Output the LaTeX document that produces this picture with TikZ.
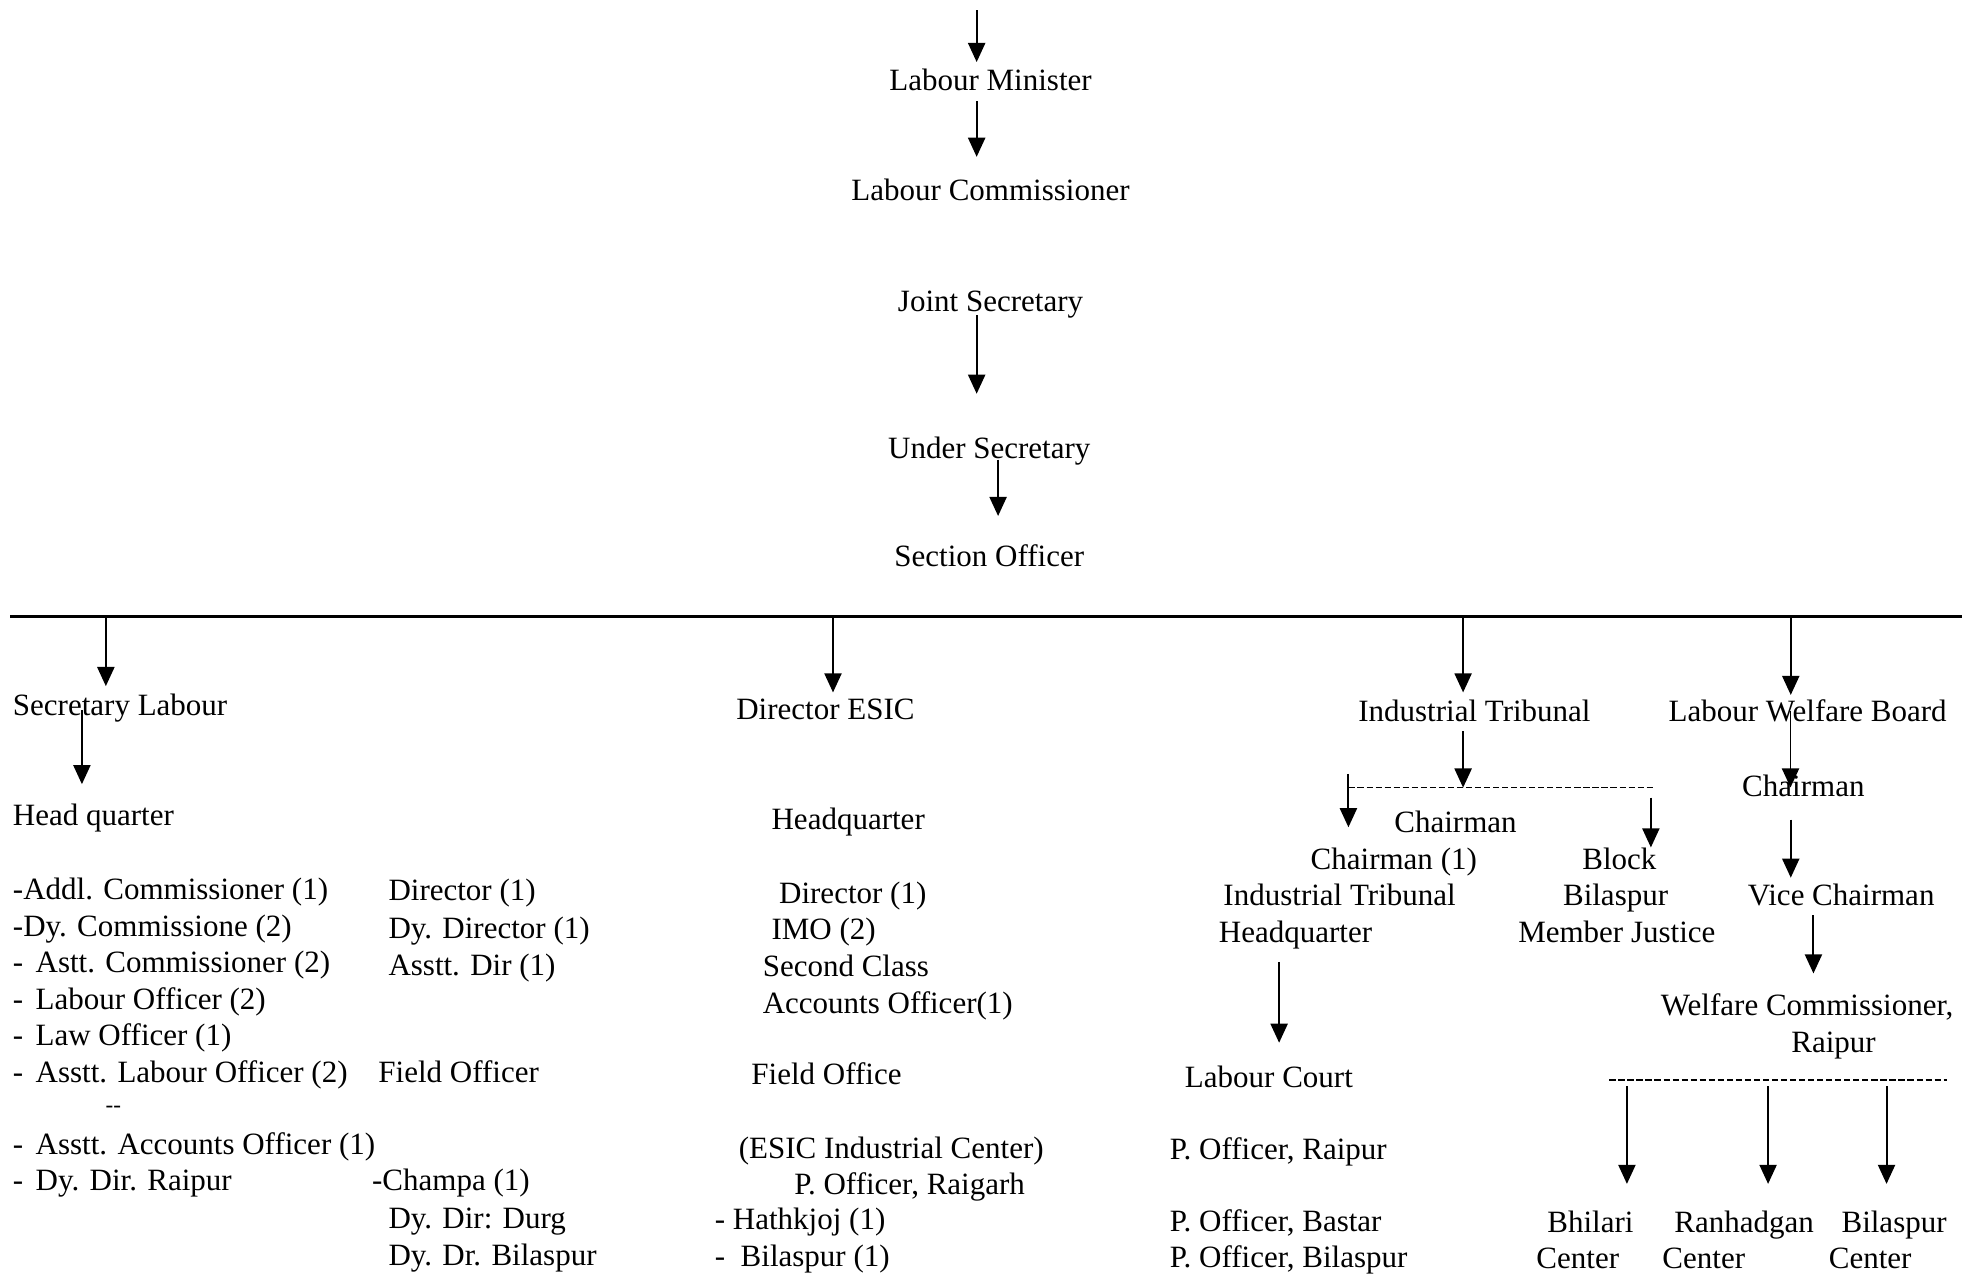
\documentclass[tikz,border=0pt]{standalone}
\usepackage{fontspec}
\setmainfont{Liberation Serif}
\usetikzlibrary{arrows.meta}

\begin{document}
\begin{tikzpicture}[
  x=1cm, y=1cm,
  font=\fontsize{17.5}{21}\selectfont,
  post/.style={inner sep=0pt, text height=0.88em, text depth=0.04em},
  entry/.style={post, anchor=west},
  link/.style={-{Triangle[length=3.8mm, width=3.4mm]}, line width=1.1pt},
  bus/.style={line width=1.6pt},
  split/.style={line width=0.7pt, dash pattern=on 3.5pt off 1.6pt},
  tick/.style={inner sep=0pt, font=\fontsize{13}{15}\selectfont}
]
\useasboundingbox (0,0) rectangle (39.2,-25.35);

  % Top chain
  \coordinate (top) at (19.375,-0.2);
  \node[post] (lm) at (19.65,-1.65)  {Labour Minister};
  \node[post] (lc) at (19.65,-3.825) {Labour Commissioner};
  \node[post] (js) at (19.65,-6.025) {Joint Secretary};
  \node[post] (us) at (19.625,-8.95) {Under Secretary};
  \node[post] (so) at (19.625,-11.1) {Section Officer};

  \draw[link, shorten >=2.5mm] (top) -- (top |- lm.north);
  \draw[link, shorten <=1.9mm, shorten >=5.45mm] (top |- lm.south) -- (top |- lc.north);
  \draw[link, shorten <=0.65mm, shorten >=9.7mm] (top |- js.south) -- (top |- us.north);
  \draw[link, shorten >=6.95mm] ([xshift=1.75mm]us.south) -- ([xshift=1.75mm]us.south |- so.north);

  % Rule under Section Officer, four branches off it
  \coordinate (busL) at (0.2,-12.225);
  \coordinate (busR) at (38.925,-12.225);
  \draw[bus] (busL) -- (busR);

  \coordinate (b1) at (2.1,-12.225);
  \coordinate (b2) at (16.525,-12.225);
  \coordinate (b3) at (29.025,-12.225);
  \coordinate (b4) at (35.525,-12.225);

  \node[entry] (sl)  at (0.25,-14.05)  {Secretary Labour};
  \node[entry] (de)  at (14.6,-14.125) {Director ESIC};
  \node[post]  (it)  at (29.25,-14.175) {Industrial Tribunal};
  \node[post]  (lwb) at (35.86,-14.175) {Labour Welfare Board};

  \foreach \b/\n/\s in {b1/sl/2.7mm, b2/de/2.2mm, b3/it/2.7mm, b4/lwb/2.2mm} {
    \draw[link, shorten >=\s] (\b) -- (\b |- \n.north);
  }

  % Secretary Labour
  \node[entry] (hq) at (0.25,-16.225) {Head quarter};
  \draw[link, shorten <=-1.35mm, shorten >=5mm] ([xshift=1.375cm]sl.south west) -- ([xshift=1.375cm]sl.south west |- hq.north);

  \foreach \t [count=\i] in {-Addl. Commissioner (1), -Dy. Commissione (2),
      {-\hspace{0.4em}Astt. Commissioner (2)}, {-\hspace{0.4em}Labour Officer (2)},
      {-\hspace{0.4em}Law Officer (1)}, {-\hspace{0.4em}Asstt. Labour Officer (2)}} {
    \node[entry] (hqa\i) at (0.25,-16.975-0.725*\i) {\t};
  }
  \node[tick]  (gap)  at (2.25,-22.0)   {-{}-};
  \node[entry] (hqa7) at (0.25,-22.75)  {-\hspace{0.4em}Asstt. Accounts Officer (1)};
  \node[entry] (hqa8) at (0.25,-23.475) {-\hspace{0.4em}Dy. Dir. Raipur};

  \node[entry] (hqb1) at (7.7,-17.725)  {Director (1)};
  \node[entry] (hqb2) at (7.7,-18.475)  {Dy. Director (1)};
  \node[entry] (hqb3) at (7.7,-19.2)    {Asstt. Dir (1)};
  \node[entry] (fo)   at (7.5,-21.325)  {Field Officer};
  \node[entry] (fo1)  at (7.375,-23.475) {-Champa (1)};
  \node[entry] (fo2)  at (7.7,-24.225)  {Dy. Dir: Durg};
  \node[entry] (fo3)  at (7.7,-24.95)   {Dy. Dr. Bilaspur};

  % Director ESIC
  \node[entry] (dehq) at (15.3,-16.3)    {Headquarter};
  \node[entry] (de1)  at (15.45,-17.775) {Director (1)};
  \node[entry] (de2)  at (15.3,-18.5)    {IMO (2)};
  \node[entry] (de3)  at (15.125,-19.225) {Second Class};
  \node[entry] (de4)  at (15.125,-19.95) {Accounts Officer(1)};
  \node[entry] (defo) at (14.9,-21.375)  {Field Office};
  \node[entry] (de5)  at (14.65,-22.825) {(ESIC Industrial Center)};
  \node[entry] (de6)  at (15.75,-23.55)  {P. Officer, Raigarh};
  \node[entry] (de7)  at (14.175,-24.25) {- Hathkjoj (1)};
  \node[entry] (de8)  at (14.175,-24.975) {-\ \ Bilaspur (1)};

  % Industrial Tribunal
  \coordinate (itL) at (26.75,-15.625);
  \coordinate (itM) at (29.025,-15.625);
  \coordinate (itR) at (32.75,-15.625);
  \draw[split] (itL) -- ([xshift=0.5mm]itR);

  \node[post] (itc)  at (28.875,-16.375) {Chairman};
  \node[post] (itc1) at (27.65,-17.1)    {Chairman (1)};
  \node[post] (itc2) at (26.575,-17.825) {Industrial Tribunal};
  \node[post] (ithq) at (25.7,-18.55)    {Headquarter};
  \node[post] (blk)  at (32.125,-17.1)   {Block};
  \node[post] (blk1) at (32.05,-17.825)  {Bilaspur};
  \node[post] (blk2) at (32.075,-18.55)  {Member Justice};

  \draw[link, shorten <=1.65mm] (itM |- it.south) -- (itM);
  \draw[link, shorten <=-2.75mm, shorten >=5.2mm] (itL) -- (itL |- itc1.north);
  \draw[link, shorten <=2mm, shorten >=1.2mm] (itR) -- (itR |- blk.north);

  \node[entry] (lcourt) at (23.5,-21.425) {Labour Court};
  \node[entry] (po1) at (23.2,-22.85)  {P. Officer, Raipur};
  \node[entry] (po2) at (23.2,-24.275) {P. Officer, Bastar};
  \node[entry] (po3) at (23.2,-25.0)   {P. Officer, Bilaspur};
  \draw[link, shorten <=3.65mm, shorten >=5.7mm] ([xshift=-3.25mm]ithq.south) -- ([xshift=-3.25mm]ithq.south |- lcourt.north);

  % Labour Welfare Board
  \node[post] (lwbch) at (35.775,-15.65) {Chairman};
  \node[post] (vc)    at (36.525,-17.825) {Vice Chairman};
  \node[post] (wcom)  at (35.85,-20.0)   {Welfare Commissioner,};
  \node[post] (wcom1) at (36.375,-20.725) {Raipur};

  \draw[link, shorten <=-2.35mm, shorten >=-1.4mm] ([xshift=-3.4mm]lwb.south) -- ([xshift=-3.4mm]lwb.south |- lwbch.north);
  \draw[link, shorten <=4.4mm, shorten >=2.45mm] ([xshift=-2.5mm]lwbch.south) -- ([xshift=-2.5mm]lwbch.south |- vc.north);
  \draw[link, shorten <=1.65mm, shorten >=5.2mm] ([xshift=-5.5mm]vc.south) -- ([xshift=-5.5mm]vc.south |- wcom.north);

  \coordinate (wcL) at (31.925,-21.425);
  \coordinate (wcR) at (38.625,-21.425);
  \draw[split] (wcL) -- (wcR);
  \coordinate (wc1) at (32.275,-21.425);
  \coordinate (wc2) at (35.075,-21.425);
  \coordinate (wc3) at (37.425,-21.425);

  \node[post] (bhi)  at (31.55,-24.3)  {Bhilari};
  \node[post] (bhi1) at (31.3,-25.025) {Center};
  \node[post] (ran)  at (34.6,-24.3)   {Ranhadgan};
  \node[post] (ran1) at (33.8,-25.025) {Center};
  \node[post] (bil)  at (37.575,-24.3) {Bilaspur};
  \node[post] (bil1) at (37.1,-25.025) {Center};

  \foreach \c/\n in {wc1/bhi, wc2/ran, wc3/bil} {
    \draw[link, shorten <=1.25mm, shorten >=6.45mm] (\c) -- (\c |- \n.north);
  }

\end{tikzpicture}
\end{document}
